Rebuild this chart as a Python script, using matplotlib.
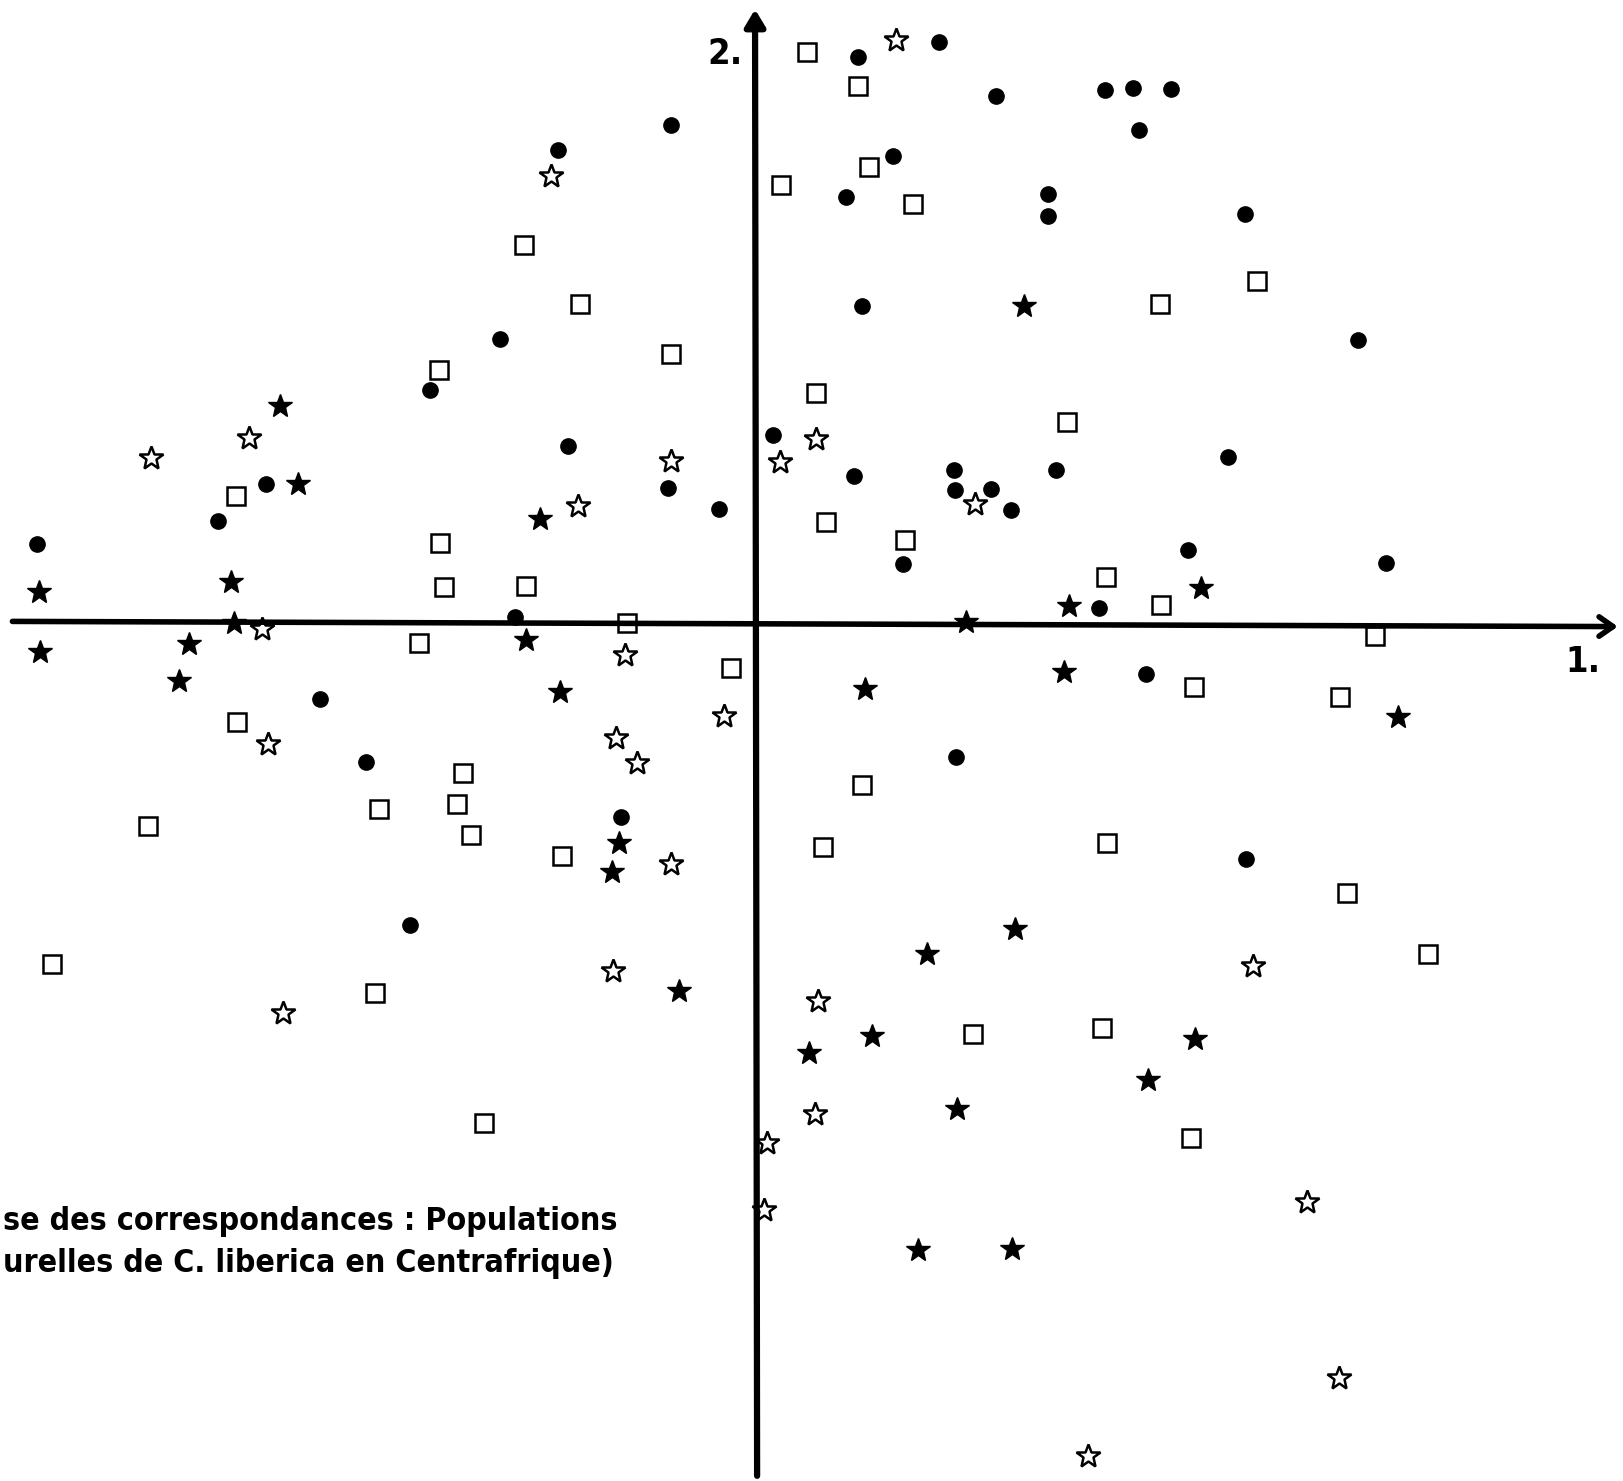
import matplotlib
matplotlib.use("Agg")
import matplotlib.pyplot as plt

# Correspondence analysis, axes 1 (horizontal) and 2 (vertical)
# four groups of C. liberica populations

circ_x = [1.78, 0.99, 2.33, 3.38, 3.65, 4.02, 3.71, 1.33, 0.88, 2.83, 2.83, 4.73, 1.03, 5.82,
          -0.81, -1.90, -2.46, -3.14, -1.81, -4.72, -5.19, -6.93, 0.17, 0.96, 1.92, 1.93, 2.28,
          2.47, 2.91, 4.57, -0.84, -0.35, 1.43, 4.18, 6.09, 3.32, -2.32, 3.77, -4.20, -3.76,
          -1.29, 1.94, 4.74, -3.33]
circ_y = [5.60, 5.46, 5.08, 5.14, 5.16, 5.15, 4.75, 4.50, 4.11, 4.14, 3.92, 3.94, 3.06, 2.73,
          4.80, 4.56, 2.74, 2.24, 1.70, 1.34, 0.98, 0.76, 1.81, 1.41, 1.47, 1.28, 1.29,
          1.09, 1.47, 1.60, 1.30, 1.10, 0.56, 0.70, 0.57, 0.14, 0.05, -0.50, -0.74, -1.35,
          -1.88, -1.30, -2.28, -2.92]

sq_x = [0.50, 0.99, 1.10, 0.25, 1.53, -2.23, -1.69, 4.85, 3.91, -3.05, -0.81, 0.59, 3.01,
        -5.01, -3.04, 0.69, 1.45, -3.00, -2.21, 3.39, 3.92, -1.24, -3.24, 5.99, -0.23, 4.24,
        5.65, -5.00, -2.82, -2.88, -3.63, -2.74, -5.86, -1.86, 1.03, 0.66, 3.40, 5.72, 6.50,
        -6.79, -3.67, 2.10, 3.35, 4.21, -2.62]
sq_y = [5.51, 5.18, 4.40, 4.22, 4.04, 3.64, 3.07, 3.30, 3.07, 2.44, 2.59, 2.22, 1.94,
        1.22, 0.77, 0.97, 0.80, 0.34, 0.35, 0.44, 0.17, -0.01, -0.20, -0.13, -0.44, -0.62,
        -0.72, -0.96, -1.45, -1.75, -1.80, -2.05, -1.97, -2.26, -1.57, -2.17, -2.13, -2.61, -3.20,
        -3.30, -3.58, -3.97, -3.92, -4.98, -4.83]

fstar_x = [-4.59, -4.41, -2.08, -5.06, -6.91, -6.90, -5.47, -5.03, -5.56, -2.21, -1.88, 2.60,
           3.03, 4.31, 2.04, 2.98, 1.06, 6.21, -1.31, -1.38, -0.73, 2.51, 1.66, 1.13, 0.52,
           4.25, 3.79, 1.95, 1.57, 2.48]
fstar_y = [2.09, 1.34, 1.00, 0.39, 0.29, -0.29, -0.21, -0.01, -0.57, -0.17, -0.67, 3.06,
           0.16, 0.33, 0.00, -0.48, -0.64, -0.91, -2.13, -2.41, -3.56, -2.96, -3.20, -3.99, -4.16,
           -4.02, -4.42, -4.70, -6.06, -6.05]

ostar_x = [1.36, -1.97, -5.83, -4.89, -0.81, 0.24, 0.59, -1.71, 2.12, -4.76, -1.26, -0.30,
           -4.70, -1.34, -1.14, -0.81, -1.37, -4.56, 0.61, 0.58, 0.12, 0.09, 4.81, 5.33, 5.64, 3.21]
ostar_y = [5.62, 4.31, 1.59, 1.78, 1.56, 1.55, 1.77, 1.12, 1.14, -0.06, -0.31, -0.90,
           -1.17, -1.12, -1.36, -2.33, -3.37, -3.77, -3.66, -4.75, -5.03, -5.67, -3.32, -5.60, -7.30, -8.05]

title_1 = "se des correspondances : Populations"
title_2 = "urelles de C. liberica en Centrafrique)"

fig = plt.figure(figsize=(16.24, 14.81), dpi=100)
ax = fig.add_axes([0, 0, 1, 1])
ax.set_xlim(-7.29, 8.39)
ax.set_ylim(-8.29, 6.01)
ax.axis("off")

# axes of the analysis
ax.annotate("", xy=(8.33, -0.04), xytext=(-7.17, 0.01),
            arrowprops=dict(arrowstyle="->,head_length=1.0,head_width=0.7", lw=4, color="black",
                            shrinkA=0, shrinkB=0))
ax.annotate("", xy=(0.0, 5.92), xytext=(0.02, -8.24),
            arrowprops=dict(arrowstyle="-|>,head_length=1.0,head_width=0.6", lw=4.5, color="black",
                            shrinkA=0, shrinkB=0))

ax.plot(circ_x, circ_y, "o", ms=11, color="black", ls="none")
ax.plot(sq_x, sq_y, "s", ms=13, mfc="white", mec="black", mew=1.8, ls="none")
ax.plot(fstar_x, fstar_y, "*", ms=18, color="black", ls="none")
ax.plot(ostar_x, ostar_y, "*", ms=18, mfc="white", mec="black", mew=1.8, ls="none")

fam = ["DejaVu Sans"]
ax.text(-0.12, 5.49, "2.", fontsize=26, fontweight="bold", family=fam,
        fontstretch="condensed", ha="right", va="center")
ax.text(7.99, -0.38, "1.", fontsize=26, fontweight="bold", family=fam,
        fontstretch="condensed", ha="center", va="center")

# caption, its left part is lost in the scan
ax.text(0.002, 0.175, title_1, fontsize=23, fontweight="bold", family=fam,
        fontstretch="condensed", ha="left", va="center", transform=ax.transAxes)
ax.text(0.002, 0.147, title_2, fontsize=23, fontweight="bold", family=fam,
        fontstretch="condensed", ha="left", va="center", transform=ax.transAxes)

fig.savefig("out.png", dpi=100, facecolor="white")
